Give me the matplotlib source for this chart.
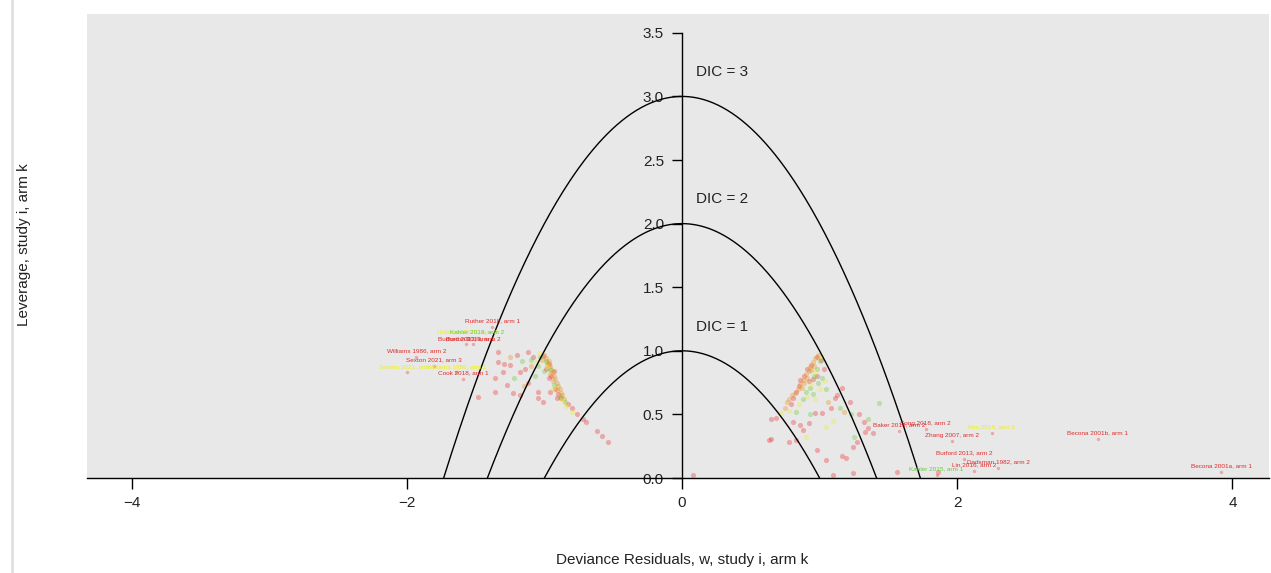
import matplotlib
matplotlib.use('Agg')
import matplotlib.pyplot as plt
from matplotlib.lines import Line2D
import numpy as np

plt.rcParams['font.family'] = ['Liberation Sans', 'DejaVu Sans']

# DIC reference curves (leverage = DIC - w^2)
dic_levels = [1, 2, 3]

# ---- points: (deviance residual w, leverage) ----
red_w = [-1.01, -0.97, -0.95, -0.93, -0.99, -0.97, -0.90, -0.88, -0.92, -0.83,
         -0.80, -0.76, -0.72, -0.70, -0.62, -0.58, -0.54,
         -1.48, -1.36, -1.27, -1.36, -1.23, -1.18, -1.14, -1.05, -1.05, -1.01,
         -1.34, -1.29, -1.20, -1.12, -1.08, -1.34, -1.18, -1.25, -1.30, -1.12,
         -0.96, -0.91,
         0.98, 0.94, 0.91, 0.89, 0.86, 0.85, 0.83, 0.81, 0.79, 0.92, 0.95, 0.98,
         1.01, 1.03,
         0.65, 0.68, 0.63, 0.65, 0.81, 0.86, 0.92, 0.88, 0.97, 1.02, 1.08, 1.13,
         1.16, 1.11, 1.22, 1.29, 1.32, 1.35, 1.39, 1.33, 1.27, 1.24, 1.16, 1.19,
         1.05, 0.98, 0.83, 0.78, 1.24, 1.10, 1.56, 1.86, 0.08]
red_lev = [0.96, 0.90, 0.80, 0.84, 0.86, 0.79, 0.66, 0.63, 0.70, 0.58,
           0.55, 0.50, 0.46, 0.44, 0.37, 0.33, 0.28,
           0.64, 0.68, 0.73, 0.79, 0.67, 0.65, 0.86, 0.68, 0.63, 0.60,
           0.99, 0.90, 0.97, 0.99, 0.95, 0.91, 0.83, 0.89, 0.83, 0.75,
           0.68, 0.63,
           0.95, 0.89, 0.86, 0.80, 0.77, 0.72, 0.68, 0.63, 0.58, 0.76, 0.78, 0.80,
           0.93, 0.86,
           0.46, 0.47, 0.30, 0.31, 0.44, 0.42, 0.43, 0.38, 0.51, 0.51, 0.55, 0.65,
           0.71, 0.63, 0.60, 0.50, 0.44, 0.39, 0.35, 0.36, 0.28, 0.24, 0.17, 0.16,
           0.14, 0.22, 0.30, 0.28, 0.04, 0.02, 0.05, 0.05, 0.02]

orange_w = [-1.00, -0.99, -0.97, -0.98, -0.96, -0.95, -0.94, -0.96, -0.93, -0.92,
            -0.94, -0.91, -0.90, -0.89, -0.91, -0.88, -0.87, -0.86, -0.98, -1.02,
            -1.25, -1.10, -1.15,
            0.99, 0.97, 0.95, 0.96, 0.93, 0.92, 0.90, 0.91, 0.88, 0.86, 0.87, 0.84,
            0.82, 0.80, 0.78, 0.76, 0.94, 0.89, 0.75, 1.06, 1.18]
orange_lev = [0.97, 0.94, 0.92, 0.89, 0.88, 0.85, 0.83, 0.82, 0.80, 0.78,
              0.76, 0.75, 0.72, 0.70, 0.69, 0.67, 0.65, 0.62, 0.91, 0.93,
              0.95, 0.88, 0.72,
              0.97, 0.94, 0.91, 0.88, 0.87, 0.84, 0.82, 0.79, 0.77, 0.74, 0.71, 0.70,
              0.67, 0.65, 0.62, 0.60, 0.85, 0.75, 0.55, 0.60, 0.52]

green_w = [-1.03, -0.99, -0.96, -1.00, -0.93, -0.89, -0.85, -1.05, -1.10,
           -1.22, -1.16, -1.07,
           1.00, 0.98, 0.96, 0.99, 0.93, 0.90, 1.02, 0.95, 1.05, 0.88,
           0.93, 0.83, 1.23, 1.43, 1.25, 1.15, 1.35]
green_lev = [0.95, 0.92, 0.86, 0.84, 0.73, 0.64, 0.60, 0.88, 0.93,
             0.79, 0.92, 0.80,
             0.92, 0.86, 0.80, 0.75, 0.71, 0.68, 0.79, 0.66, 0.70, 0.62,
             0.50, 0.52, 0.50, 0.59, 0.32, 0.55, 0.46]

yellow_w = [-1.04, -0.98, -0.94, -0.87, -0.84, -1.06, -0.80,
            1.01, 0.97, 0.94, 1.00, 0.91, 0.97, 1.04, 0.85,
            0.78, 0.72, 1.10, 0.90, 1.05]
yellow_lev = [0.98, 0.88, 0.71, 0.61, 0.57, 0.91, 0.52,
              0.96, 0.83, 0.74, 0.70, 0.64, 0.62, 0.76, 0.58,
              0.53, 0.51, 0.45, 0.32, 0.40]

# ---- labelled study arms ----
label_text = ['Ruther 2018, arm 1', 'Hollands 2015, arm 2', 'Kahler 2018, arm 2',
              'Burford 2013, arm 1', 'Burton 2013, arm 2', 'Williams 1986, arm 2',
              'Sexton 2021, arm 1', 'Williams 1986, arm 1', 'Sexton 2021, arm 3',
              'Cook 2018, arm 1',
              'Baker 2019, arm 2', 'Song 2018, arm 2', 'Kim 2016, arm 2',
              'Zhang 2007, arm 2', 'Becona 2001b, arm 1', 'Burford 2013, arm 2',
              'Lin 2016, arm 2', 'Dadsman 1982, arm 2', 'Kahler 2015, arm 1',
              'Becona 2001a, arm 1']
label_w = [-1.38, -1.56, -1.49, -1.57, -1.52, -1.93, -2.00, -1.64, -1.80, -1.59,
           1.58, 1.77, 2.25, 1.96, 3.02, 2.05, 2.12, 2.30, 1.85, 3.92]
label_lev = [1.19, 1.10, 1.10, 1.05, 1.05, 0.95, 0.83, 0.83, 0.88, 0.78,
             0.37, 0.385, 0.355, 0.29, 0.31, 0.15, 0.055, 0.08, 0.024, 0.047]
label_col = ['#e01818', '#f0f000', '#55cc22', '#e01818', '#e01818', '#e01818',
             '#f0f000', '#f0f000', '#e01818', '#e01818',
             '#e01818', '#e01818', '#f0f000', '#e01818', '#e01818', '#e01818',
             '#e01818', '#e01818', '#55cc22', '#e01818']

fig = plt.figure(figsize=(12.71, 5.73), dpi=100)
ax = fig.add_axes([87 / 1271, 95 / 573, 1182 / 1271, 464 / 573])
ax.set_facecolor('#e8e8e8')

# reference parabolas
for c in dic_levels:
    w = np.linspace(-np.sqrt(c), np.sqrt(c), 300)
    ax.plot(w, c - w ** 2, color='black', lw=1.0, zorder=3)
    ax.text(0.1, c + 0.19, f'DIC = {c}', fontsize=11, color='#222222',
            ha='left', va='center')

# points
for xs, ys, col in [(red_w, red_lev, '#ee3030'), (orange_w, orange_lev, '#e8901a'),
                    (green_w, green_lev, '#66cc33'), (yellow_w, yellow_lev, '#eeee22')]:
    ax.scatter(xs, ys, s=14, color=col, alpha=0.35, linewidths=0, zorder=2)
ax.scatter(label_w, label_lev, s=6, color='#ee3030', alpha=0.35, linewidths=0, zorder=2)

for t, x, y, col in zip(label_text, label_w, label_lev, label_col):
    ax.annotate(t, (x, y), xytext=(0, 4.3), textcoords='offset points',
                ha='center', va='center', fontsize=4.6, color=col, alpha=0.9,
                zorder=4)

ax.set_xlim(-4.324, 4.266)
ax.set_ylim(0, 3.648)

ax.spines['top'].set_visible(False)
ax.spines['right'].set_visible(False)
ax.spines['left'].set_position(('data', 0))
ax.spines['left'].set_bounds(0, 3.5)
ax.spines['left'].set_linewidth(1.0)
ax.spines['bottom'].set_linewidth(1.0)

ax.set_xticks([-4, -2, 0, 2, 4])
ax.set_yticks(np.arange(0, 3.51, 0.5))
ax.set_yticklabels([f'{v:.1f}' for v in np.arange(0, 3.51, 0.5)])
ax.tick_params(axis='x', length=8, width=1, labelsize=11, pad=5, colors='black',
               labelcolor='#222222')
ax.tick_params(axis='y', length=7, width=1, labelsize=11, pad=6, colors='black',
               labelcolor='#222222')

fig.text(682 / 1271, 1 - 560 / 573, 'Deviance Residuals, w, study i, arm k',
         ha='center', va='center', fontsize=11, color='#222222')
fig.text(24 / 1271, 1 - 245 / 573, 'Leverage, study i, arm k', rotation=90,
         ha='center', va='center', fontsize=11, color='#222222')

fig.add_artist(Line2D([12 / 1271, 12 / 1271], [0, 1], color='#e0e0e0', lw=2))

fig.savefig('out.png', dpi=100)
